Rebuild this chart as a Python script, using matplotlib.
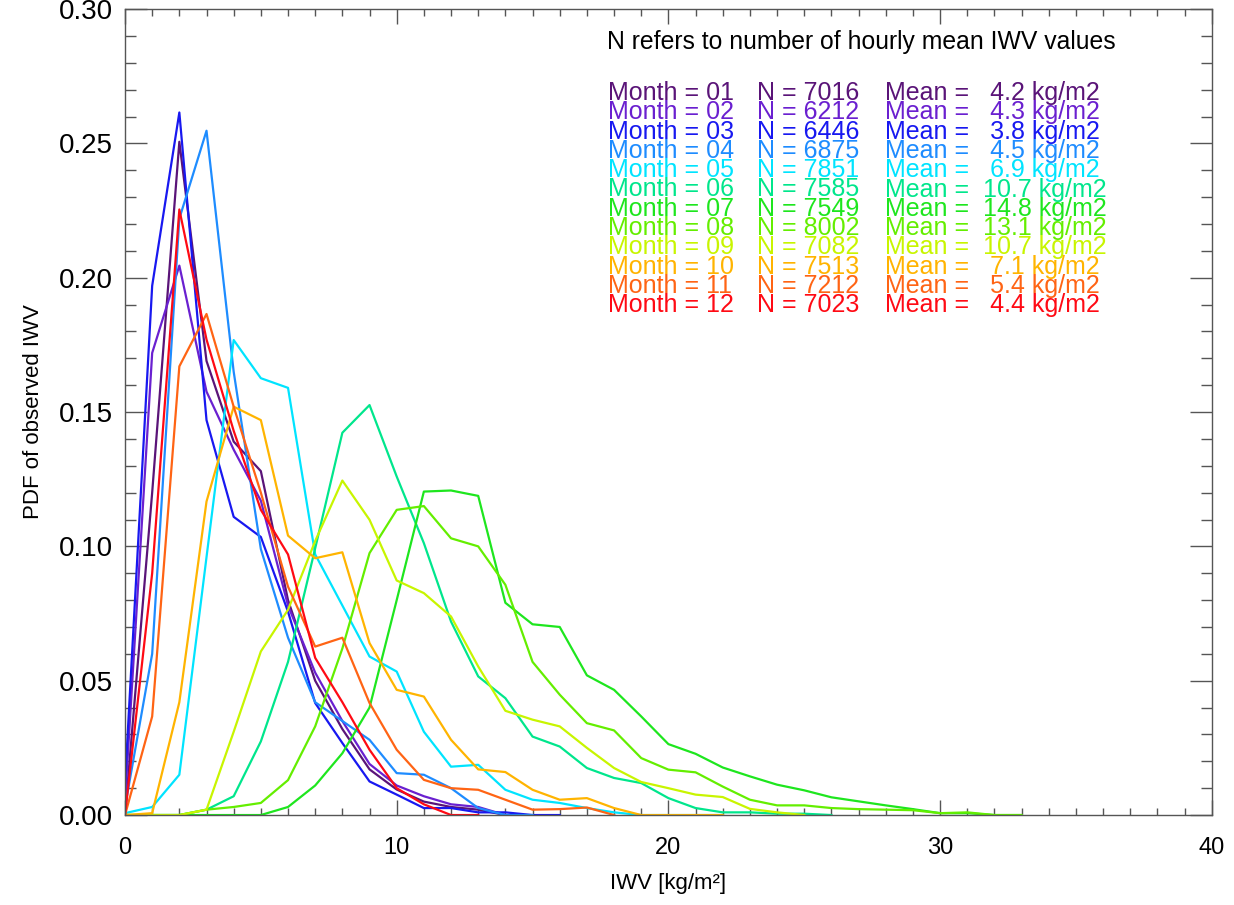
import matplotlib
matplotlib.use("Agg")
import matplotlib.pyplot as plt
from matplotlib.ticker import MultipleLocator, FormatStrFormatter

plt.rcParams['font.family'] = ['Liberation Sans', 'DejaVu Sans']

months = ['01', '02', '03', '04', '05', '06', '07', '08', '09', '10', '11', '12']
n_values = [7016, 6212, 6446, 6875, 7851, 7585, 7549, 8002, 7082, 7513, 7212, 7023]
mean_values = [4.2, 4.3, 3.8, 4.5, 6.9, 10.7, 14.8, 13.1, 10.7, 7.1, 5.4, 4.4]
colors = ['#5a1478', '#6a20d0', '#1818f0', '#1e8cff', '#00e4ff', '#00e68c',
          '#1ee61e', '#64ee00', '#c8f500', '#ffb400', '#ff6414', '#ff0a14']

# PDF per 1 kg/m2 bin, starting at IWV = 0
pdf_01 = [0.0, 0.12, 0.2506, 0.169, 0.139, 0.128, 0.080, 0.050, 0.032, 0.017,
          0.0095, 0.005, 0.003, 0.002, 0.0]
pdf_02 = [0.005, 0.172, 0.2045, 0.1576, 0.136, 0.117, 0.078, 0.053, 0.035, 0.019,
          0.011, 0.007, 0.004, 0.003, 0.0]
pdf_03 = [0.012, 0.197, 0.2615, 0.147, 0.111, 0.1035, 0.0757, 0.0417, 0.0268, 0.0125,
          0.0076, 0.0026, 0.0026, 0.001, 0.001, 0.0, 0.0]
pdf_04 = [0.003, 0.06, 0.222, 0.2547, 0.165, 0.099, 0.066, 0.042, 0.035, 0.028,
          0.0156, 0.015, 0.010, 0.0026, 0.0, 0.0]
pdf_05 = [0.0007, 0.003, 0.015, 0.096, 0.1768, 0.1626, 0.159, 0.097, 0.078, 0.059,
          0.0534, 0.031, 0.018, 0.0187, 0.0094, 0.0057, 0.0045, 0.0026, 0.001, 0.0,
          0.0, 0.0, 0.0]
pdf_06 = [0.0, 0.0, 0.0, 0.002, 0.007, 0.0274, 0.057, 0.0993, 0.1423, 0.1526,
          0.126, 0.1012, 0.072, 0.0516, 0.0435, 0.0292, 0.0255, 0.0175, 0.0138, 0.0119,
          0.0063, 0.0026, 0.001, 0.001, 0.0005, 0.0005, 0.0]
pdf_07 = [0.0, 0.0, 0.0, 0.0, 0.0, 0.0, 0.003, 0.011, 0.023, 0.040,
          0.080, 0.1204, 0.1208, 0.1188, 0.079, 0.071, 0.070, 0.052, 0.0466, 0.0367,
          0.0264, 0.0228, 0.0177, 0.0144, 0.0113, 0.0092, 0.0066, 0.0051, 0.0036, 0.0022,
          0.0007, 0.0007, 0.0, 0.0]
pdf_08 = [0.0, 0.0, 0.0, 0.002, 0.003, 0.0045, 0.013, 0.033, 0.062, 0.0975,
          0.1136, 0.115, 0.103, 0.100, 0.0857, 0.057, 0.0448, 0.0342, 0.0315, 0.0212,
          0.0169, 0.0159, 0.0106, 0.0057, 0.0036, 0.0036, 0.0026, 0.0022, 0.002, 0.0018,
          0.0007, 0.001, 0.0, 0.0]
pdf_09 = [0.0, 0.0, 0.0, 0.002, 0.031, 0.0609, 0.0764, 0.102, 0.1245, 0.1099,
          0.0873, 0.0826, 0.0739, 0.0553, 0.0388, 0.0355, 0.033, 0.025, 0.0175, 0.0123,
          0.010, 0.0076, 0.0067, 0.0023, 0.001, 0.0]
pdf_10 = [0.0, 0.0007, 0.042, 0.1167, 0.152, 0.147, 0.104, 0.0956, 0.0978, 0.064,
          0.0466, 0.0441, 0.028, 0.017, 0.016, 0.0094, 0.0057, 0.0063, 0.0026, 0.0,
          0.0, 0.0, 0.0]
pdf_11 = [0.0, 0.0367, 0.167, 0.1865, 0.152, 0.12, 0.085, 0.0627, 0.066, 0.0417,
          0.0243, 0.0131, 0.010, 0.0094, 0.0057, 0.002, 0.0022, 0.0028, 0.0]
pdf_12 = [0.0, 0.09, 0.2254, 0.177, 0.143, 0.1136, 0.097, 0.0585, 0.042, 0.0243,
          0.010, 0.004, 0.0, 0.0]

pdfs = [pdf_01, pdf_02, pdf_03, pdf_04, pdf_05, pdf_06,
        pdf_07, pdf_08, pdf_09, pdf_10, pdf_11, pdf_12]

fig = plt.figure(figsize=(12.34, 9.05), dpi=100)
ax = fig.add_axes([0.1013, 0.0994, 0.8807, 0.8906])

for pdf, col in zip(pdfs, colors):
    ax.plot(range(len(pdf)), pdf, color=col, lw=1.6)

ax.set_xlim(0, 40)
ax.set_ylim(0, 0.30)
ax.xaxis.set_major_locator(MultipleLocator(10))
ax.xaxis.set_minor_locator(MultipleLocator(1))
ax.yaxis.set_major_locator(MultipleLocator(0.05))
ax.yaxis.set_minor_locator(MultipleLocator(0.01))
ax.yaxis.set_major_formatter(FormatStrFormatter('%.2f'))

axis_col = '#555555'
for sp in ax.spines.values():
    sp.set_color(axis_col)
    sp.set_linewidth(1.0)
ax.tick_params(which='both', direction='in', top=True, right=True,
               color=axis_col, width=1.0)
ax.tick_params(axis='x', which='major', length=11, pad=16, labelsize=17)
ax.tick_params(axis='x', which='minor', length=5)
ax.tick_params(axis='y', which='major', length=16, pad=9, labelsize=20)
ax.tick_params(axis='y', which='minor', length=8)
fig.canvas.draw()
ax.get_yticklabels()[-1].set_va('top')

ax.set_xlabel('IWV [kg/m²]', fontsize=16, labelpad=10)
ax.set_ylabel('PDF of observed IWV', fontsize=16, labelpad=10)

W, H = 1234.0, 905.0
fig.text(607 / W, 1 - 42 / H, 'N refers to number of hourly mean IWV values',
         fontsize=17.8, va='center', ha='left', color='black')
row0, dy = 93.0, 19.3
for i, (m, n, mv, col) in enumerate(zip(months, n_values, mean_values, colors)):
    yy = 1 - (row0 + i * dy) / H
    fig.text(608 / W, yy, 'Month = %s' % m, fontsize=18, color=col, va='center')
    fig.text(757 / W, yy, 'N = %d' % n, fontsize=18, color=col, va='center')
    fig.text(885 / W, yy, 'Mean = %5.1f kg/m2' % mv, fontsize=18, color=col,
             va='center')

fig.savefig('out.png', dpi=100)
